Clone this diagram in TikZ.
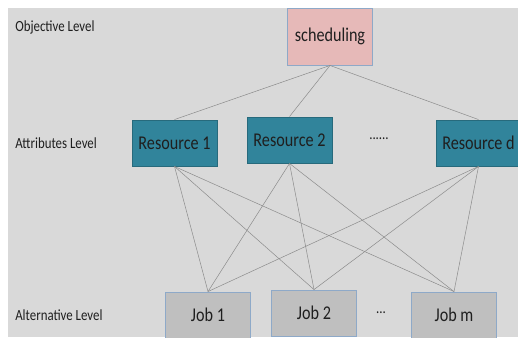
\documentclass[tikz,border=0pt]{standalone}
\usepackage{fontspec}
\setmainfont{Carlito}
\usepackage{tikz}
\usetikzlibrary{positioning}
\definecolor{bggray}{HTML}{D9D9D9}
\definecolor{goalpink}{HTML}{E6B9B8}
\definecolor{restale}{HTML}{31849B}
\definecolor{jobgray}{HTML}{BFBFBF}
\definecolor{boxedge}{HTML}{8EA9C8}
\definecolor{linkgray}{HTML}{8C8C8C}
\definecolor{inkdark}{HTML}{1F1F1F}
\newcommand{\narrow}[1]{\scalebox{0.83}[1]{#1}}

\begin{document}
\begin{tikzpicture}[x=1pt,y=-1pt,every path/.style={line width=0.6pt}]
  \tikzstyle{box} = [draw=boxedge,line width=0.9pt,minimum width=85pt,minimum height=46pt,inner sep=0pt,text=inkdark,font=\fontsize{19.5}{22}\selectfont];
  \tikzstyle{goal} = [box,fill=goalpink,minimum height=57pt];
  \tikzstyle{res} = [box,fill=restale,draw=restale!80!black];
  \tikzstyle{job} = [box,fill=jobgray];
  \tikzstyle{lvl} = [anchor=west,inner sep=0pt,text=inkdark,font=\fontsize{15.5}{18}\selectfont];
  \tikzstyle{link} = [draw=linkgray,line width=0.5pt];
  \useasboundingbox (0,0) rectangle (518,337);
  \fill[bggray] (8,8) rectangle (518,337);
  % levels
  \node[lvl] (objlvl) at (15,27) {\narrow{Objective Level}};
  \node[lvl] (attlvl) at (15,143) {\narrow{Attributes Level}};
  \node[lvl] (altlvl) at (15,315) {\narrow{Alternative Level}};
  % objective
  \node[goal] (sched) at (330,36.5) {\narrow{scheduling}};
  % attributes
  \node[res] (res1) at (174.5,143) {\narrow{Resource 1}};
  \node[res] (res2) at (289.5,140) {\narrow{Resource 2}};
  \node[res] (resd) at (478.5,143) {\narrow{Resource d}};
  \node[lvl,anchor=center] (rdots) at (379,139) {\narrow{......}};
  % alternatives
  \node[job] (job1) at (208,315) {\narrow{Job 1}};
  \node[job] (job2) at (314,313) {\narrow{Job 2}};
  \node[job] (jobm) at (454,315) {\narrow{Job m}};
  \node[lvl,anchor=center] (jdots) at (381,313) {\narrow{...}};
  % links
  \foreach \r in {res1,res2,resd}
    \draw[link] (sched.south) -- (\r.north);
  \foreach \r in {res1,res2,resd}
    \foreach \j in {job1,job2,jobm}
      \draw[link] (\r.south) -- (\j.north);
\end{tikzpicture}
\end{document}
